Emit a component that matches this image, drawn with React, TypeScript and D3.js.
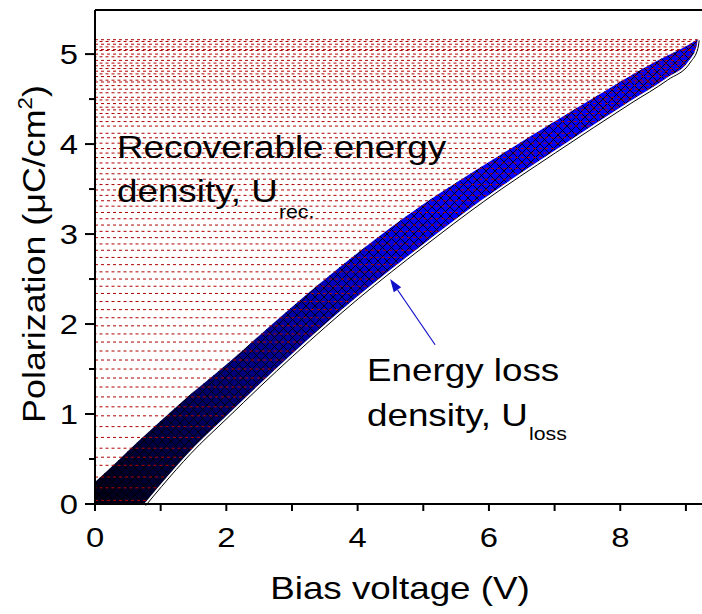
import React from "react";
import * as d3 from "d3";

// Charge (upper) boundary of the loop: bias voltage (V) vs polarization (µC/cm²)
const upperV = [0, 0.35, 0.68, 1.3, 2.0, 3.0, 4.0, 5.0, 6.0, 7.0, 7.7, 8.6, 8.96, 9.1, 9.19];
const upperP = [0.245, 0.48, 0.71, 1.12, 1.55, 2.19, 2.79, 3.33, 3.8, 4.25, 4.56, 4.94, 5.07, 5.13, 5.17];
// Discharge (lower) boundary
const lowerV = [0.76, 1.0, 1.45, 2.0, 3.0, 4.0, 5.0, 5.91, 7.0, 8.15, 8.71, 9.06, 9.17, 9.19];
const lowerP = [0, 0.21, 0.58, 0.97, 1.66, 2.3, 2.88, 3.38, 3.92, 4.47, 4.73, 4.93, 5.08, 5.17];
// Drop-line levels (µC/cm²) of the recoverable-energy hatching
const dropLevels = [
  0.04, 0.18, 0.3, 0.43, 0.52, 0.62, 0.74, 0.86, 0.98, 1.08, 1.19, 1.3, 1.4, 1.5, 1.6, 1.7,
  1.8, 1.89, 1.98, 2.07, 2.16, 2.25, 2.34, 2.42, 2.5, 2.58, 2.66, 2.74, 2.82, 2.89, 2.96,
  3.03, 3.1, 3.17, 3.24, 3.31, 3.37, 3.43, 3.49, 3.55, 3.61, 3.67, 3.73, 3.79, 3.85, 3.9,
  3.95, 4.01, 4.07, 4.12, 4.2, 4.25, 4.3, 4.34, 4.38, 4.41, 4.45, 4.49, 4.52, 4.57, 4.61,
  4.65, 4.69, 4.71, 4.75, 4.78, 4.81, 4.84, 4.87, 4.9, 4.93, 4.97, 5.0, 5.04, 5.05, 5.08,
  5.11, 5.14, 5.16,
];
const xMajor = [0, 2, 4, 6, 8];
const xMinor = [1, 3, 5, 7, 9];
const yMajor = [0, 1, 2, 3, 4, 5];
const yMinor = [0.5, 1.5, 2.5, 3.5, 4.5];
const xTitle = "Bias voltage (V)";
const yTitle = "Polarization (μC/cm";
const recLines = ["Recoverable energy", "density, U"];
const lossLines = ["Energy loss", "density, U"];
// annotation anchor points (data units)
const arrowFrom = [5.18, 1.77];
const arrowTo = [4.495, 2.5];

const W = 702;
const H = 614;
const FONT = "'Liberation Sans', Arial, Helvetica, sans-serif";
const SX = 1.15;

function T({ x, y, size, anchor = "start", rotate = 0, sx = SX, children }: any) {
  return (
    <g transform={`translate(${x},${y}) rotate(${rotate}) scale(${sx},1)`}>
      <text fontSize={size} textAnchor={anchor} fontFamily={FONT} fill="#000">
        {children}
      </text>
    </g>
  );
}

export default function App() {
  const x = d3.scaleLinear().domain([0, 9.245]).range([95, 702]);
  const y = d3.scaleLinear().domain([0, 5.49]).range([504, 10]);

  const upper = upperV.map((v, i) => [v, upperP[i]] as [number, number]);
  const lower = lowerV.map((v, i) => [v, lowerP[i]] as [number, number]);

  const line = d3
    .line<[number, number]>()
    .x((d) => x(d[0]))
    .y((d) => y(d[1]))
    .curve(d3.curveMonotoneX);

  const upperPath = line(upper) as string;
  const lowerPath = line(lower) as string;
  const lowerRev = line(lower.slice().reverse()) as string;

  const bandPath = upperPath + lowerRev.replace(/^M/, "L") + `L${x(0)},${y(0)}Z`;

  const tip = upper[upper.length - 1];
  const hatchClip =
    `M${x(0)},${y(0)}` + lowerPath.replace(/^M/, "L") + `L${x(0)},${y(tip[1])}Z`;

  const ax0 = x(arrowFrom[0]);
  const ay0 = y(arrowFrom[1]);
  const ax1 = x(arrowTo[0]);
  const ay1 = y(arrowTo[1]);
  const ang = Math.atan2(ay1 - ay0, ax1 - ax0);
  const hl = 13;
  const hw = 4.5;
  const bx = ax1 - hl * Math.cos(ang);
  const by = ay1 - hl * Math.sin(ang);
  const head = `M${ax1},${ay1}L${bx + hw * Math.sin(ang)},${by - hw * Math.cos(ang)}L${bx - hw * Math.sin(ang)},${by + hw * Math.cos(ang)}Z`;

  return (
    <svg
      width={W}
      height={H}
      viewBox={`0 0 ${W} ${H}`}
      style={{ position: "absolute", left: 0, top: 0, background: "#fff" }}
    >
      <defs>
        <linearGradient
          id="bandGrad"
          gradientUnits="userSpaceOnUse"
          x1={x(0)}
          y1={y(0)}
          x2={x(5.2)}
          y2={y(3.3)}
        >
          <stop offset="0" stopColor="#000014" />
          <stop offset="0.45" stopColor="#000080" />
          <stop offset="1" stopColor="#0000ff" />
        </linearGradient>
        <pattern id="xhatch" patternUnits="userSpaceOnUse" width={9} height={9}>
          <path d="M-1,-1L10,10M10,-1L-1,10" stroke="#000" strokeWidth={0.9} fill="none" />
        </pattern>
        <clipPath id="hatchClip">
          <path d={hatchClip} />
        </clipPath>
      </defs>

      {/* energy-loss band */}
      <path d={bandPath} fill="url(#bandGrad)" />
      <path d={bandPath} fill="url(#xhatch)" />

      {/* drop lines for recoverable energy */}
      <g clipPath="url(#hatchClip)">
        {dropLevels.map((p, i) => (
          <line
            key={i}
            x1={x(0)}
            x2={x(9.3)}
            y1={y(p)}
            y2={y(p)}
            stroke="#b00000"
            strokeWidth={1}
            strokeDasharray="3 3"
            strokeDashoffset={i % 2 ? 1.5 : 0}
          />
        ))}
      </g>

      {/* edge shadow under the lower boundary */}
      <path d={lowerPath} fill="none" stroke="#fff" strokeWidth={1.2} />
      <path d={lowerPath} transform="translate(0.8,1.6)" fill="none" stroke="#000" strokeWidth={1} />

      {/* annotation arrow */}
      <line x1={ax0} y1={ay0} x2={bx} y2={by} stroke="#1010c8" strokeWidth={1.2} />
      <path d={head} fill="#1010c8" />

      {/* frame */}
      <line x1={x(0)} x2={W} y1={10} y2={10} stroke="#000" strokeWidth={2} />
      <line x1={x(0)} x2={x(0)} y1={10} y2={y(0)} stroke="#000" strokeWidth={2} />
      <line x1={x(0) - 10} x2={W} y1={y(0)} y2={y(0)} stroke="#000" strokeWidth={2} />

      {/* x ticks */}
      {xMajor.map((v) => (
        <line key={"xM" + v} x1={x(v)} x2={x(v)} y1={y(0)} y2={y(0) + 7} stroke="#000" strokeWidth={2} />
      ))}
      {xMinor.map((v) => (
        <line key={"xm" + v} x1={x(v)} x2={x(v)} y1={y(0)} y2={y(0) + 7} stroke="#000" strokeWidth={2} />
      ))}
      {xMajor.map((v) => (
        <T key={"xl" + v} x={x(v)} y={547} size={28.5} anchor="middle">
          {String(v)}
        </T>
      ))}

      {/* y ticks */}
      {yMajor.map((v) => (
        <line key={"yM" + v} x1={x(0) - 10} x2={x(0)} y1={y(v)} y2={y(v)} stroke="#000" strokeWidth={2} />
      ))}
      {yMinor.map((v) => (
        <line key={"ym" + v} x1={x(0) - 6} x2={x(0)} y1={y(v)} y2={y(v)} stroke="#000" strokeWidth={2} />
      ))}
      {yMajor.map((v) => (
        <T key={"yl" + v} x={78} y={y(v) + 10.3} size={28.5} anchor="end">
          {String(v)}
        </T>
      ))}

      {/* axis titles */}
      <T x={400} y={599} size={32} anchor="middle">
        {xTitle}
      </T>
      <T x={45} y={254} size={32} anchor="middle" rotate={-90} sx={1.12}>
        {yTitle}
        <tspan fontSize={20} dy={-13}>2</tspan>
        <tspan dy={13}>)</tspan>
      </T>

      {/* annotations */}
      <T x={117} y={157.7} size={32}>
        {recLines[0]}
      </T>
      <T x={117} y={201.7} size={32}>
        {recLines[1]}
        <tspan fontSize={18.5} dy={16} dx={1}>rec.</tspan>
      </T>
      <T x={367} y={381} size={32}>
        {lossLines[0]}
      </T>
      <T x={367} y={426} size={32}>
        {lossLines[1]}
        <tspan fontSize={18.5} dy={14} dx={1}>loss</tspan>
      </T>
    </svg>
  );
}
